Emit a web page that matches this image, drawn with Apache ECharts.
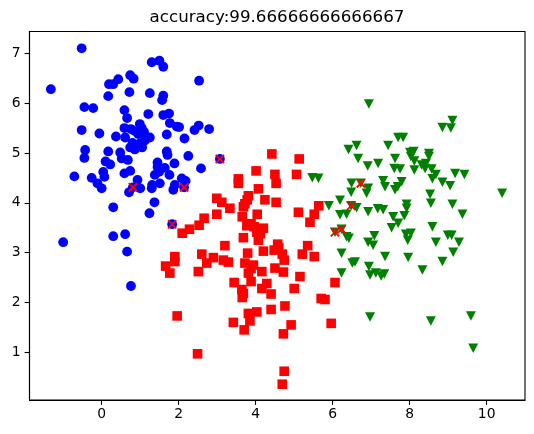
<!DOCTYPE html>
<html>
<head>
<meta charset="utf-8">
<script src="https://cdn.jsdelivr.net/npm/echarts@6/dist/echarts.min.js"></script>
<style>html,body{margin:0;padding:0;background:#fff}#c{width:534px;height:434px}</style>
</head>
<body>
<div id="c"></div>
<script>
var titleText = 'accuracy:99.66666666666667';
var xTicks = [0, 2, 4, 6, 8, 10];
var yTicks = [1, 2, 3, 4, 5, 6, 7];

var class0 = [[-0.52,7.10],[-1.32,6.28],[1.30,6.82],[1.50,6.85],[1.60,6.73],[0.74,6.56],[0.83,6.49],[0.43,6.48],[0.30,6.38],[0.19,6.38],[0.72,6.22],[1.25,6.20],[0.17,6.14],[1.60,6.15],[1.57,6.06],[-0.45,5.92],[-0.22,5.90],[0.59,5.86],[0.66,5.70],[1.21,5.78],[1.60,5.76],[1.75,5.79],[1.77,5.60],[1.95,5.53],[2.01,5.52],[2.41,5.46],[-0.52,5.46],[-0.06,5.39],[0.37,5.33],[0.59,5.50],[0.76,5.48],[0.99,5.58],[1.04,5.50],[0.86,5.44],[0.61,5.31],[1.25,5.31],[1.12,5.25],[0.99,5.19],[1.69,5.37],[2.15,5.29],[-0.43,5.06],[0.17,5.03],[0.48,5.01],[0.74,5.11],[0.86,5.07],[1.05,5.11],[1.69,5.03],[2.25,4.94],[2.53,6.45],[2.52,5.55],[2.79,5.48],
[-0.45,4.90],[0.10,4.83],[0.22,4.77],[0.52,4.89],[0.68,4.86],[1.45,4.81],[1.89,4.79],[1.71,4.96],[0.04,4.62],[0.07,4.52],[-0.71,4.53],[-0.26,4.50],[-0.11,4.39],[0.00,4.29],[0.59,4.59],[0.74,4.64],[0.93,4.46],[0.81,4.31],[0.71,4.21],[1.00,4.29],[1.38,4.56],[1.49,4.62],[1.64,4.70],[1.76,4.56],[1.31,4.36],[1.51,4.39],[1.30,4.29],[2.08,4.49],[2.18,4.44],[1.90,4.36],[1.86,4.26],[2.14,4.31],[0.30,3.91],[1.37,4.01],[1.24,3.79],[1.83,3.57],[-1.00,3.21],[0.30,3.33],[0.61,3.37],[0.66,3.02],[2.58,4.69],[3.07,4.88],[0.76,2.33],[0.95,5.38],[1.10,5.42],[0.80,5.20],[1.45,4.72]];

var class1 = [[4.42,4.98],[5.13,4.88],[4.01,4.64],[4.50,4.57],[4.53,4.39],[5.06,4.57],[3.55,4.48],[3.55,4.39],[4.07,4.28],[3.81,4.14],[3.78,4.06],[4.24,4.06],[4.53,4.01],[2.99,4.09],[3.12,4.01],[3.33,3.89],[3.68,3.92],[2.99,3.77],[2.66,3.69],[2.53,3.55],[3.65,3.72],[4.04,3.77],[3.77,3.54],[3.96,3.52],[4.20,3.49],[4.03,3.41],[4.07,3.25],[3.68,3.30],[5.11,3.81],[5.52,3.77],[5.64,3.94],[5.41,3.61],[3.20,3.14],[2.60,2.97],[2.90,2.90],[2.73,2.79],[3.16,2.85],[3.29,2.81],[3.79,2.99],[3.72,2.79],[3.94,2.75],[4.16,2.62],[3.81,2.59],[4.20,3.03],[4.57,3.17],[4.48,3.05],[4.69,2.97],[4.74,2.85],[4.50,2.69],[4.72,2.61],[5.35,3.14],[5.21,2.97],[5.52,2.92],[2.51,2.62],[5.15,2.52],[6.06,2.40],[3.44,2.40],[4.29,2.38],
[3.88,2.42],[3.64,2.26],[3.68,2.18],[3.65,2.10],[4.16,2.28],[4.40,2.17],[5.00,2.28],[5.70,2.08],[5.80,2.06],[3.81,1.78],[4.03,1.81],[4.40,1.86],[4.76,1.93],[3.42,1.60],[3.85,1.63],[3.70,1.45],[4.92,1.55],[4.72,1.37],[5.96,1.58],[2.49,0.97],[4.74,0.62],[4.69,0.36],[1.96,1.73],
[2.09,3.39],[2.28,3.47],[1.90,2.92],[1.90,2.82],[1.66,2.73],[1.77,2.59],[3.88,3.58],[4.12,3.38],[3.72,3.98],[4.60,3.10],[3.88,2.68]];

var class2 = [[6.66,4.89],[6.91,4.74],[7.18,4.79],[7.62,4.89],[8.03,4.93],[8.12,4.84],[8.50,4.93],[7.60,4.69],[7.75,4.68],[8.12,4.66],[8.31,4.76],[8.42,4.79],[8.40,4.69],[8.57,4.68],[8.68,4.57],[8.59,4.48],[9.18,4.59],[9.42,4.57],[8.85,4.41],[9.05,4.34],[10.40,4.19],[6.73,4.39],[6.92,4.29],[6.88,4.19],[7.31,4.44],[7.36,4.32],[7.79,4.42],[7.69,4.32],[7.62,4.26],[8.53,4.17],[8.55,3.99],[9.11,3.97],[9.37,3.77],[7.92,3.97],[7.92,3.89],[7.86,3.74],[7.57,3.72],[7.70,3.59],[7.53,3.50],[6.62,3.90],[6.92,3.82],[7.17,3.88],[7.31,3.86],[8.59,3.52],[7.90,3.37],[8.03,3.39],[7.95,3.25],[8.99,3.35],[9.09,3.35],[9.28,3.21],[8.68,3.21],[7.08,3.34],[6.92,3.21],[7.05,3.15],[9.13,3.01],[7.36,2.92],[7.96,2.90],[8.85,2.82],[6.94,2.72],[6.58,2.81],[8.33,2.65],[6.97,2.55],[7.12,2.59],[7.34,2.57],[7.26,2.53],
[5.47,4.50],[5.63,4.49],[6.49,4.39],[6.48,4.21],[5.90,3.94],[6.19,4.05],[6.19,3.76],[6.36,3.77],[6.48,3.94],[6.06,3.41],[6.23,3.47],[6.36,3.32],[6.42,3.29],[6.23,2.99],[6.51,2.79],[6.23,2.59],
[6.94,5.98],[8.85,5.51],[9.11,5.65],[9.07,5.50],[6.62,5.15],[7.44,5.15],[7.70,5.31],[7.83,5.31],[8.01,5.01],[8.10,5.03],[8.50,4.99],[6.41,5.07],
[6.97,1.71],[8.55,1.63],[9.59,1.73],[9.65,1.08]];

var marked = [[0.81,4.31],[2.14,4.31],[1.83,3.57],[3.07,4.88],[6.06,3.41],[6.23,3.47],[6.48,3.94],[6.73,4.39]];

var FONT = 'DejaVu Sans';
var chart = echarts.init(document.getElementById('c'), null, {renderer: 'canvas'});

function axisCommon(ticks) {
  return {
    type: 'value',
    splitLine: {show: false},
    axisLine: {show: true, onZero: false, lineStyle: {color: '#000', width: 1.1}},
    axisTick: {show: true, inside: false, length: 4.9, lineStyle: {color: '#000', width: 1.1}, customValues: ticks},
    axisLabel: {show: true, color: '#000', fontFamily: FONT, fontSize: 13.9, customValues: ticks}
  };
}

var xAxis = axisCommon(xTicks);
xAxis.min = -1.875; xAxis.max = 10.995;
xAxis.axisLabel.margin = 7;
var yAxis = axisCommon(yTicks);
yAxis.min = 0.043; yAxis.max = 7.437;
yAxis.axisLabel.margin = 9;

chart.setOption({
  animation: false,
  backgroundColor: '#fff',
  grid: {left: 29.5, right: 9, top: 31.5, bottom: 34, show: true, borderColor: '#000', borderWidth: 1.1, backgroundColor: 'transparent', containLabel: false},
  xAxis: xAxis,
  yAxis: yAxis,
  graphic: [{
    type: 'text', x: 277, y: 17.5, z: 10,
    style: {text: titleText, fill: '#000', font: '16.7px "DejaVu Sans"', textAlign: 'center', textVerticalAlign: 'middle'}
  }],
  series: [
    {type: 'scatter', data: class0, symbol: 'circle', symbolSize: 9.8, itemStyle: {color: '#0000ff', opacity: 1}, silent: true},
    {type: 'scatter', data: class1, symbol: 'rect', symbolSize: 9.6, itemStyle: {color: '#ff0000', opacity: 1}, silent: true},
    {type: 'scatter', data: class2, symbol: 'triangle', symbolRotate: 180, symbolSize: [10, 9.5], itemStyle: {color: '#008000', opacity: 1}, silent: true},
    {type: 'scatter', data: marked, symbol: 'path://M0,0L10,10M10,0L0,10', symbolSize: 8.3, itemStyle: {color: 'none', borderColor: '#ff0000', borderWidth: 1.8, opacity: 1}, silent: true, z: 5}
  ]
});
</script>
</body>
</html>
